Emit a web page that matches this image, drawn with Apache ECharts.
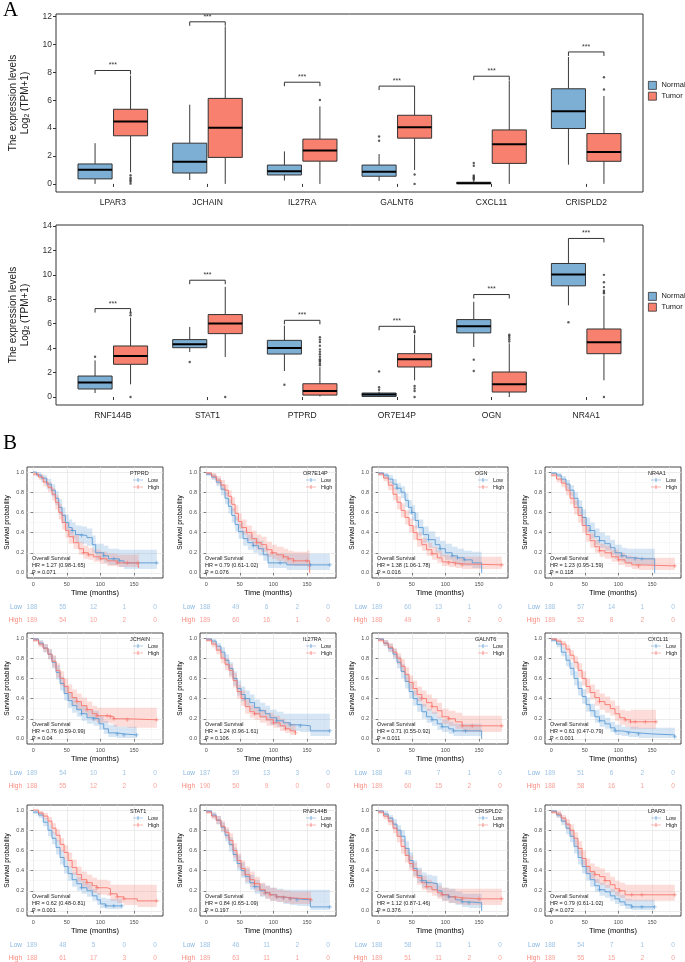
<!DOCTYPE html>
<html><head><meta charset="utf-8">
<script src="https://cdn.jsdelivr.net/npm/echarts@6/dist/echarts.min.js"></script>
<style>html,body{margin:0;padding:0;background:#fff}#c{width:685px;height:962px}</style>
</head><body><div id="c"></div><script>
// ---------------- DATA: Panel A ----------------
const genesTop = ['LPAR3','JCHAIN','IL27RA','GALNT6','CXCL11','CRISPLD2'];
// [whiskerLow, q1, median, q3, whiskerHigh]
const normalTop = [
 [0,0.36,1.02,1.43,2.92],
 [0.28,0.78,1.59,2.92,5.68],
 [0.24,0.64,0.9,1.35,2.33],
 [0.21,0.55,0.88,1.35,2.14],
 [0,0.02,0.05,0.12,0.22],
 [1.38,3.97,5.2,6.82,9.1]
];
const tumorTop = [
 [0.83,3.45,4.47,5.35,7.77],
 [0,1.9,4.02,6.13,11.29],
 [0,1.63,2.4,3.21,5.56],
 [1.0,3.28,4.06,4.92,6.73],
 [0,1.47,2.85,3.87,7.41],
 [0,1.62,2.28,3.61,6.3]
];
const outNormalTop = [[4,3.4],[4,3.09],[5,0.3],[5,0.38],[5,0.45],[5,0.52],[5,0.6],[5,1.3],[5,1.5]];
const outTumorTop = [[1,0.62],[1,0.45],[1,0.35],[1,0.25],[1,0.15],[1,0.02],[3,6.02],[4,0.67],[4,0],[6,6.77],[6,7.65]];
const sigTop = [8.13,11.62,7.29,7.01,7.72,9.46];
const yTicksTop = [0,2,4,6,8,10,12];

const genesBottom = ['RNF144B','STAT1','PTPRD','OR7E14P','OGN','NR4A1'];
const normalBottom = [
 [0.33,0.66,1.2,1.72,3.0],
 [3.69,4.04,4.32,4.7,5.74],
 [2.13,3.52,4.02,4.64,5.85],
 [0,0.05,0.2,0.33,0.45],
 [4.1,5.25,5.79,6.34,7.79],
 [7.51,9.1,10.03,10.93,12.68]
];
const tumorBottom = [
 [1.04,2.68,3.36,4.18,6.5],
 [3.28,5.19,6.01,6.75,9.02],
 [0.05,0.16,0.49,1.09,2.45],
 [1.37,2.46,3.09,3.55,5.1],
 [0,0.41,1.04,2.05,4.4],
 [1.37,3.55,4.48,5.57,8.3]
];
const outNormalBottom = [[1,3.3],[2,2.87],[3,1.01],[4,0.6],[4,0.8],[4,2.1],[5,3.06],[5,2.13],[6,6.12]];
const outTumorBottom = [[1,6.7],[1,6.9],[1,0],[2,0],[3,2.6],[3,2.75],[3,2.9],[3,3.0],[3,3.1],[3,3.3],[3,3.5],[3,3.7],[3,3.9],[3,4.2],[3,4.5],[3,4.7],[3,4.9],[4,0.9],[4,0.7],[4,0.5],[4,0],[4,5.3],[4,5.4],[5,4.55],[5,4.7],[5,4.85],[5,5.0],[5,5.1],[6,8.5],[6,8.6],[6,8.7],[6,9.0],[6,9.4],[6,10.0],[6,0]];
const sigBottom = [7.24,9.56,6.28,5.79,8.39,12.98];
const yTicksBottom = [0,2,4,6,8,10,12,14];

// ---------------- DATA: Panel B ----------------
const kmGenes = ['PTPRD','OR7E14P','OGN','NR4A1','JCHAIN','IL27RA','GALNT6','CXCL11','STAT1','RNF144B','CRISPLD2','LPAR3'];
const kmHR = ['HR = 1.27 (0.98-1.65)','HR = 0.79 (0.61-1.02)','HR = 1.38 (1.06-1.78)','HR = 1.23 (0.95-1.59)',
 'HR = 0.76 (0.59-0.99)','HR = 1.24 (0.96-1.61)','HR = 0.71 (0.55-0.92)','HR = 0.61 (0.47-0.79)',
 'HR = 0.62 (0.48-0.81)','HR = 0.84 (0.65-1.09)','HR = 1.12 (0.87-1.46)','HR = 0.79 (0.61-1.02)'];
const kmP = ['P = 0.071','P = 0.076','P = 0.016','P = 0.118','P = 0.04','P = 0.106','P = 0.011','P < 0.001','P = 0.001','P = 0.197','P = 0.376','P = 0.072'];
const riskLow = [[188,55,12,1,0],[188,49,6,2,0],[189,60,13,1,0],[188,57,14,1,0],[189,54,10,1,0],[187,59,13,3,0],
 [188,49,7,1,0],[189,51,6,2,0],[189,48,5,0,0],[188,46,11,2,0],[188,58,11,1,0],[188,54,7,1,0]];
const riskHigh = [[189,54,10,2,0],[189,60,16,1,0],[188,49,9,2,0],[189,52,8,2,0],[188,55,12,2,0],[190,50,9,0,0],
 [189,60,15,2,0],[188,58,16,1,0],[188,61,17,3,0],[189,63,11,1,0],[189,51,11,2,0],[189,55,15,2,0]];
const kmTimeTicks = [0,50,100,150];
const kmTimeMinor = [25,75,125,175];
const kmSurvTicks = [0,0.2,0.4,0.6,0.8,1.0];
const kmSurvMinor = [0.1,0.3,0.5,0.7,0.9];

// curves: [time, survival, lower CI, upper CI, censored(1)]
const PTPRD_low = [[0,1,1,1,0],[5,0.97,0.95,1,0],[12,0.94,0.9,0.97,0],[20,0.88,0.83,0.93,0],[27,0.82,0.76,0.88,0],[33,0.74,0.67,0.81,0],[38,0.65,0.58,0.73,0],[43,0.57,0.5,0.65,0],[48,0.5,0.42,0.58,0],[53,0.45,0.37,0.53,0],[58,0.42,0.34,0.5,1],[63,0.38,0.3,0.47,0],[72,0.37,0.29,0.46,1],[80,0.35,0.27,0.44,0],[88,0.28,0.2,0.37,0],[93,0.2,0.13,0.29,0],[105,0.17,0.1,0.27,1],[112,0.14,0.08,0.24,0],[120,0.14,0.08,0.24,1],[128,0.12,0.06,0.23,1],[135,0.1,0.04,0.23,0],[184,0.1,0.04,0.23,1]];
const PTPRD_high = [[0,0.98,0.96,1,0],[8,0.95,0.92,0.98,0],[15,0.9,0.86,0.94,0],[22,0.85,0.8,0.9,0],[28,0.78,0.72,0.84,0],[33,0.7,0.63,0.77,0],[38,0.6,0.53,0.68,0],[43,0.5,0.43,0.58,0],[48,0.42,0.35,0.5,0],[53,0.36,0.29,0.44,0],[60,0.3,0.24,0.38,0],[68,0.24,0.18,0.31,0],[75,0.2,0.14,0.27,1],[82,0.18,0.13,0.25,1],[90,0.16,0.11,0.23,0],[100,0.14,0.09,0.21,1],[110,0.12,0.07,0.19,0],[125,0.1,0.06,0.18,1],[140,0.1,0.06,0.18,1],[156,0.1,0.05,0.2,1],[157,0.05,0.01,0.25,0]];
const OR7E14P_low = [[0,0.98,0.96,1,0],[8,0.95,0.92,0.98,0],[15,0.9,0.86,0.94,0],[22,0.83,0.77,0.88,0],[28,0.74,0.68,0.8,0],[33,0.66,0.59,0.73,0],[38,0.57,0.5,0.64,0],[43,0.48,0.41,0.56,0],[48,0.41,0.34,0.49,0],[55,0.34,0.27,0.42,0],[62,0.3,0.23,0.38,0],[70,0.27,0.2,0.35,1],[78,0.24,0.17,0.32,0],[85,0.18,0.12,0.26,0],[92,0.1,0.05,0.19,0],[110,0.1,0.05,0.19,1],[120,0.08,0.03,0.19,0],[155,0.08,0.03,0.19,1],[184,0.08,0.03,0.19,1]];
const OR7E14P_high = [[0,0.99,0.97,1,0],[8,0.96,0.93,0.99,0],[15,0.92,0.88,0.96,0],[22,0.87,0.82,0.92,0],[28,0.82,0.76,0.88,0],[33,0.76,0.69,0.82,0],[38,0.68,0.61,0.75,0],[43,0.59,0.52,0.67,0],[48,0.51,0.44,0.59,0],[53,0.45,0.38,0.53,0],[60,0.4,0.32,0.47,0],[68,0.34,0.27,0.42,0],[75,0.3,0.23,0.38,1],[82,0.28,0.21,0.36,0],[90,0.23,0.16,0.31,0],[98,0.2,0.14,0.28,1],[105,0.18,0.12,0.26,0],[115,0.16,0.1,0.24,1],[122,0.14,0.08,0.22,1],[130,0.12,0.07,0.21,1],[150,0.12,0.06,0.22,1],[154,0,0,0.2,0]];
const OGN_low = [[0,0.99,0.97,1,0],[8,0.97,0.94,0.99,0],[15,0.93,0.89,0.97,0],[22,0.88,0.83,0.93,0],[28,0.84,0.78,0.89,1],[34,0.8,0.74,0.86,0],[40,0.72,0.65,0.79,0],[45,0.65,0.58,0.72,0],[50,0.6,0.52,0.67,1],[55,0.52,0.44,0.6,0],[60,0.45,0.37,0.53,0],[67,0.38,0.3,0.46,0],[75,0.33,0.25,0.41,1],[85,0.28,0.2,0.36,0],[92,0.24,0.16,0.32,1],[100,0.2,0.13,0.29,0],[110,0.17,0.1,0.26,1],[118,0.15,0.08,0.24,1],[128,0.13,0.07,0.22,1],[140,0.1,0.05,0.21,0],[154,0,0,0.21,0]];
const OGN_high = [[0,0.98,0.96,1,0],[8,0.94,0.91,0.97,0],[15,0.87,0.82,0.91,0],[22,0.78,0.72,0.84,0],[28,0.7,0.63,0.76,0],[34,0.62,0.55,0.69,0],[40,0.55,0.48,0.62,0],[46,0.47,0.4,0.54,0],[52,0.4,0.33,0.47,0],[58,0.33,0.26,0.4,0],[65,0.28,0.22,0.35,0],[72,0.23,0.17,0.3,0],[80,0.19,0.13,0.26,1],[88,0.15,0.1,0.22,0],[95,0.11,0.07,0.18,0],[105,0.1,0.06,0.17,1],[115,0.09,0.05,0.16,1],[125,0.08,0.04,0.16,1],[184,0.08,0.04,0.16,1]];
const NR4A1_low = [[0,0.99,0.98,1,0],[8,0.97,0.95,0.99,0],[15,0.93,0.9,0.96,0],[22,0.88,0.83,0.92,0],[28,0.82,0.76,0.87,0],[34,0.74,0.67,0.8,0],[40,0.65,0.58,0.72,0],[46,0.55,0.48,0.63,0],[52,0.47,0.4,0.55,0],[58,0.42,0.34,0.5,1],[65,0.36,0.28,0.44,0],[72,0.32,0.25,0.4,1],[80,0.29,0.22,0.37,0],[88,0.25,0.18,0.33,0],[95,0.2,0.14,0.28,0],[105,0.17,0.11,0.25,1],[112,0.15,0.09,0.24,0],[125,0.14,0.08,0.24,1],[135,0.14,0.08,0.24,1],[154,0,0,0.24,0]];
const NR4A1_high = [[0,0.97,0.95,0.99,0],[8,0.93,0.9,0.96,0],[15,0.89,0.85,0.93,0],[22,0.82,0.77,0.87,0],[28,0.74,0.68,0.8,0],[34,0.65,0.58,0.72,0],[40,0.57,0.5,0.64,0],[46,0.47,0.4,0.55,0],[52,0.38,0.31,0.46,0],[58,0.32,0.25,0.39,0],[65,0.26,0.2,0.33,0],[72,0.22,0.16,0.29,1],[80,0.2,0.14,0.27,0],[90,0.16,0.11,0.23,0],[100,0.13,0.08,0.2,1],[110,0.1,0.06,0.17,0],[120,0.08,0.04,0.16,0],[130,0.07,0.03,0.15,1],[184,0.07,0.03,0.15,1]];
const JCHAIN_low = [[0,0.99,0.97,1,0],[8,0.95,0.92,0.98,0],[15,0.9,0.86,0.94,0],[22,0.84,0.79,0.89,0],[28,0.76,0.7,0.82,0],[34,0.66,0.59,0.73,0],[40,0.55,0.48,0.62,0],[46,0.45,0.38,0.53,0],[52,0.38,0.31,0.46,0],[58,0.33,0.26,0.41,0],[65,0.29,0.22,0.37,0],[72,0.25,0.18,0.33,1],[80,0.21,0.15,0.29,0],[90,0.2,0.13,0.28,1],[98,0.15,0.09,0.23,0],[105,0.1,0.05,0.18,0],[112,0.06,0.02,0.14,0],[125,0.05,0.01,0.12,1],[135,0.04,0.01,0.12,1],[154,0.04,0.01,0.12,1]];
const JCHAIN_high = [[0,0.98,0.96,1,0],[8,0.94,0.91,0.97,0],[15,0.9,0.86,0.94,0],[22,0.84,0.79,0.89,0],[28,0.77,0.71,0.83,0],[34,0.68,0.61,0.75,0],[40,0.6,0.53,0.67,0],[46,0.52,0.45,0.6,0],[52,0.46,0.39,0.54,0],[58,0.41,0.33,0.49,0],[65,0.37,0.29,0.45,1],[72,0.33,0.26,0.41,0],[80,0.29,0.22,0.37,1],[88,0.25,0.18,0.33,0],[95,0.23,0.16,0.31,1],[110,0.23,0.16,0.31,1],[115,0.22,0.15,0.31,1],[120,0.2,0.12,0.31,1],[140,0.19,0.11,0.31,1],[184,0.19,0.11,0.31,1]];
const IL27RA_low = [[0,0.99,0.97,1,0],[8,0.97,0.94,0.99,0],[15,0.92,0.88,0.95,0],[22,0.86,0.81,0.91,0],[28,0.78,0.72,0.84,0],[34,0.7,0.63,0.76,0],[40,0.6,0.53,0.67,0],[46,0.5,0.43,0.58,0],[52,0.44,0.37,0.52,0],[58,0.4,0.32,0.48,1],[65,0.36,0.28,0.44,0],[72,0.31,0.24,0.39,0],[80,0.28,0.21,0.36,1],[88,0.25,0.18,0.33,0],[95,0.21,0.14,0.29,0],[105,0.18,0.12,0.27,1],[115,0.16,0.1,0.25,0],[125,0.14,0.08,0.25,1],[140,0.13,0.07,0.25,1],[155,0.08,0.03,0.25,0],[184,0.08,0.03,0.25,1]];
const IL27RA_high = [[0,0.98,0.96,1,0],[8,0.94,0.91,0.97,0],[15,0.88,0.84,0.92,0],[22,0.8,0.75,0.85,0],[28,0.74,0.68,0.8,0],[34,0.68,0.61,0.74,0],[40,0.58,0.51,0.65,0],[46,0.47,0.4,0.54,0],[52,0.4,0.33,0.48,0],[58,0.32,0.25,0.39,0],[65,0.27,0.21,0.34,0],[72,0.25,0.19,0.32,1],[80,0.22,0.16,0.29,0],[90,0.19,0.13,0.26,0],[100,0.16,0.11,0.23,1],[110,0.13,0.08,0.2,0],[118,0.1,0.06,0.17,1],[125,0.08,0.04,0.15,0],[133,0.06,0.02,0.14,1]];
const GALNT6_low = [[0,0.99,0.97,1,0],[8,0.95,0.92,0.98,0],[15,0.9,0.86,0.94,0],[22,0.84,0.79,0.89,0],[28,0.76,0.7,0.82,0],[34,0.67,0.6,0.74,0],[40,0.57,0.5,0.64,0],[46,0.47,0.4,0.55,0],[52,0.4,0.33,0.48,0],[58,0.34,0.27,0.42,0],[65,0.27,0.2,0.35,0],[72,0.22,0.16,0.3,0],[80,0.19,0.13,0.27,1],[88,0.15,0.09,0.22,0],[95,0.12,0.07,0.19,1],[105,0.1,0.05,0.17,0],[112,0.08,0.03,0.15,1],[130,0.08,0.03,0.15,1],[154,0,0,0.15,0]];
const GALNT6_high = [[0,0.98,0.96,1,0],[8,0.95,0.92,0.98,0],[15,0.91,0.87,0.95,0],[22,0.86,0.81,0.9,0],[28,0.8,0.74,0.85,0],[34,0.72,0.66,0.79,0],[40,0.64,0.57,0.71,0],[46,0.56,0.49,0.63,0],[52,0.5,0.43,0.58,0],[58,0.44,0.37,0.52,0],[65,0.4,0.32,0.48,1],[72,0.36,0.28,0.44,0],[80,0.32,0.25,0.4,1],[88,0.28,0.21,0.36,0],[95,0.22,0.15,0.3,0],[105,0.2,0.13,0.28,1],[115,0.17,0.1,0.26,0],[125,0.13,0.07,0.23,1],[140,0.13,0.07,0.23,1],[184,0.13,0.07,0.23,1]];
const CXCL11_low = [[0,0.98,0.96,1,0],[8,0.94,0.91,0.97,0],[15,0.86,0.82,0.91,0],[22,0.78,0.72,0.84,0],[28,0.7,0.63,0.76,0],[34,0.6,0.53,0.67,0],[40,0.5,0.43,0.57,0],[46,0.42,0.35,0.49,0],[52,0.34,0.27,0.41,0],[58,0.28,0.22,0.35,0],[65,0.22,0.16,0.29,0],[72,0.18,0.12,0.24,1],[80,0.15,0.1,0.21,0],[88,0.11,0.07,0.17,0],[95,0.08,0.04,0.14,1],[105,0.07,0.03,0.12,0],[115,0.06,0.02,0.12,1],[130,0.05,0.01,0.11,1],[150,0.04,0.01,0.11,0],[184,0.02,0.0,0.11,1]];
const CXCL11_high = [[0,0.99,0.97,1,0],[8,0.97,0.95,0.99,0],[15,0.94,0.91,0.97,0],[22,0.89,0.85,0.93,0],[28,0.83,0.78,0.88,0],[34,0.76,0.7,0.82,0],[40,0.68,0.61,0.75,0],[46,0.6,0.53,0.67,0],[52,0.52,0.45,0.6,0],[58,0.46,0.39,0.54,0],[65,0.41,0.33,0.49,0],[72,0.37,0.29,0.45,1],[80,0.34,0.26,0.42,0],[88,0.3,0.23,0.38,0],[95,0.25,0.18,0.33,0],[102,0.21,0.14,0.29,0],[110,0.19,0.12,0.28,1],[118,0.17,0.1,0.29,1],[125,0.17,0.1,0.29,1],[140,0.17,0.1,0.29,1],[156,0.17,0.1,0.29,1]];
const STAT1_low = [[0,0.98,0.96,1,0],[8,0.95,0.92,0.98,0],[15,0.88,0.84,0.92,0],[22,0.8,0.74,0.85,0],[28,0.72,0.66,0.78,0],[34,0.63,0.56,0.7,0],[40,0.53,0.46,0.6,0],[46,0.44,0.37,0.51,0],[52,0.37,0.3,0.44,0],[58,0.31,0.24,0.38,0],[65,0.27,0.2,0.34,0],[72,0.23,0.17,0.3,1],[80,0.2,0.14,0.27,0],[88,0.15,0.1,0.22,0],[95,0.11,0.06,0.18,0],[100,0.07,0.03,0.13,0],[108,0.05,0.02,0.12,1],[120,0.05,0.02,0.12,1],[132,0.05,0.02,0.12,1]];
const STAT1_high = [[0,1,1,1,0],[8,0.97,0.95,0.99,0],[15,0.94,0.91,0.97,0],[22,0.89,0.85,0.93,0],[28,0.82,0.77,0.87,0],[34,0.75,0.69,0.81,0],[40,0.66,0.59,0.72,0],[46,0.58,0.51,0.65,0],[52,0.5,0.43,0.58,0],[58,0.43,0.36,0.51,0],[65,0.36,0.29,0.44,0],[72,0.31,0.24,0.39,0],[80,0.28,0.21,0.36,1],[88,0.25,0.18,0.33,0],[95,0.23,0.16,0.31,1],[110,0.22,0.15,0.3,0],[115,0.17,0.1,0.26,1],[125,0.14,0.08,0.26,1],[135,0.12,0.06,0.26,1],[155,0.1,0.04,0.26,0],[184,0.1,0.04,0.26,1]];
const RNF144B_low = [[0,0.99,0.97,1,0],[8,0.95,0.92,0.98,0],[15,0.9,0.86,0.94,0],[22,0.83,0.78,0.88,0],[28,0.75,0.69,0.81,0],[34,0.66,0.59,0.73,0],[40,0.56,0.49,0.63,0],[46,0.47,0.4,0.55,0],[52,0.4,0.33,0.48,0],[58,0.34,0.27,0.42,0],[65,0.28,0.21,0.36,0],[72,0.24,0.17,0.31,1],[80,0.2,0.14,0.27,0],[88,0.18,0.12,0.25,1],[95,0.16,0.1,0.23,0],[105,0.14,0.09,0.22,1],[115,0.13,0.07,0.21,1],[125,0.12,0.06,0.21,1],[135,0.11,0.05,0.21,1],[155,0.04,0.01,0.21,0],[184,0.04,0.01,0.21,1]];
const RNF144B_high = [[0,0.98,0.96,1,0],[8,0.94,0.91,0.97,0],[15,0.9,0.86,0.94,0],[22,0.84,0.79,0.89,0],[28,0.78,0.72,0.83,0],[34,0.7,0.64,0.77,0],[40,0.6,0.53,0.67,0],[46,0.5,0.43,0.57,0],[52,0.42,0.35,0.5,0],[58,0.36,0.29,0.44,0],[65,0.31,0.24,0.39,0],[72,0.27,0.2,0.34,1],[80,0.21,0.15,0.28,0],[88,0.18,0.12,0.25,1],[95,0.16,0.1,0.23,1],[105,0.14,0.09,0.21,1],[115,0.13,0.08,0.2,1],[125,0.12,0.07,0.19,1],[156,0.11,0.06,0.19,1]];
const CRISPLD2_low = [[0,0.99,0.97,1,0],[8,0.96,0.93,0.99,0],[15,0.92,0.88,0.95,0],[22,0.86,0.81,0.91,0],[28,0.8,0.74,0.85,0],[34,0.74,0.68,0.8,0],[40,0.62,0.55,0.69,0],[46,0.5,0.43,0.58,0],[52,0.42,0.35,0.5,0],[58,0.35,0.28,0.43,0],[65,0.3,0.23,0.38,1],[72,0.28,0.21,0.36,1],[80,0.27,0.2,0.35,0],[88,0.2,0.14,0.28,0],[95,0.16,0.1,0.23,0],[105,0.14,0.08,0.22,1],[115,0.11,0.06,0.19,0],[125,0.09,0.04,0.17,1],[135,0.08,0.03,0.17,1],[154,0,0,0.17,0]];
const CRISPLD2_high = [[0,0.98,0.96,1,0],[8,0.94,0.91,0.97,0],[15,0.89,0.85,0.93,0],[22,0.82,0.77,0.87,0],[28,0.74,0.68,0.8,0],[34,0.64,0.57,0.71,0],[40,0.55,0.48,0.62,0],[46,0.47,0.4,0.55,0],[52,0.4,0.33,0.48,0],[58,0.33,0.26,0.41,0],[65,0.28,0.21,0.35,0],[72,0.24,0.18,0.31,1],[80,0.21,0.15,0.28,0],[88,0.18,0.12,0.25,0],[95,0.16,0.1,0.23,1],[105,0.14,0.08,0.22,0],[115,0.13,0.07,0.22,1],[125,0.12,0.06,0.22,1],[150,0.12,0.06,0.22,1],[184,0.12,0.06,0.22,1]];
const LPAR3_low = [[0,0.99,0.97,1,0],[8,0.95,0.92,0.98,0],[15,0.89,0.85,0.93,0],[22,0.82,0.76,0.87,0],[28,0.74,0.68,0.8,0],[34,0.64,0.57,0.71,0],[40,0.53,0.46,0.6,0],[46,0.44,0.37,0.51,0],[52,0.37,0.3,0.45,0],[58,0.31,0.24,0.39,0],[65,0.25,0.19,0.32,0],[72,0.21,0.15,0.28,1],[80,0.19,0.13,0.26,0],[88,0.15,0.1,0.22,0],[95,0.12,0.07,0.19,0],[102,0.09,0.05,0.16,0],[110,0.06,0.02,0.12,0],[120,0.04,0.01,0.11,1],[135,0.04,0.01,0.11,1],[154,0.04,0.01,0.11,1]];
const LPAR3_high = [[0,0.98,0.96,1,0],[8,0.96,0.93,0.99,0],[15,0.92,0.88,0.95,0],[22,0.86,0.81,0.91,0],[28,0.8,0.74,0.86,0],[34,0.72,0.65,0.78,0],[40,0.62,0.55,0.69,0],[46,0.52,0.45,0.6,0],[52,0.44,0.37,0.52,0],[58,0.39,0.32,0.47,0],[65,0.36,0.28,0.44,1],[72,0.34,0.26,0.42,0],[80,0.3,0.23,0.38,1],[88,0.26,0.19,0.34,0],[95,0.22,0.15,0.3,0],[102,0.2,0.13,0.28,1],[110,0.16,0.1,0.26,0],[120,0.16,0.1,0.26,1],[135,0.16,0.1,0.26,1],[184,0.16,0.1,0.26,1]];

const kmCurvesLow = [PTPRD_low,OR7E14P_low,OGN_low,NR4A1_low,JCHAIN_low,IL27RA_low,GALNT6_low,CXCL11_low,STAT1_low,RNF144B_low,CRISPLD2_low,LPAR3_low];
const kmCurvesHigh = [PTPRD_high,OR7E14P_high,OGN_high,NR4A1_high,JCHAIN_high,IL27RA_high,GALNT6_high,CXCL11_high,STAT1_high,RNF144B_high,CRISPLD2_high,LPAR3_high];

// ---------------- STYLE / LAYOUT ----------------
const FONT = '"Liberation Sans", Arial, Helvetica, sans-serif';
const C_NORMAL = '#7DAFD4', C_TUMOR = '#F8806F';
const C_LOW = '#5B9BD5', C_HIGH = '#F8766D';
const F_LOW = 'rgba(91,155,213,0.25)', F_HIGH = 'rgba(248,118,109,0.25)';
const T_LOW = '#86B5E0', T_HIGH = '#F88A7E';
const CROSS = 'path://M0,4h10v2h-10zM4,0h2v10h-2z';
const LEG_ICON = 'path://M0,4.4h20v1.2h-20zM9.2,1h1.6v8h-1.6z';
const DODGE = 0.1875, BOXW = 0.36;

const grid=[], xAxis=[], yAxis=[], series=[], title=[], legend=[];
const addGrid = g => (grid.push(g), grid.length-1);
const addX = a => (xAxis.push(a), xAxis.length-1);
const addY = a => (yAxis.push(a), yAxis.length-1);

function boxRender(offset, color){
  return function(params, api){
    const x = api.value(0) + offset;
    const lo = api.coord([x, api.value(1)]), q1 = api.coord([x, api.value(2)]),
          md = api.coord([x, api.value(3)]), q3 = api.coord([x, api.value(4)]), hi = api.coord([x, api.value(5)]);
    const w = api.size([BOXW, 0])[0], cx = lo[0];
    return {type:'group', children:[
      {type:'line', shape:{x1:cx,y1:hi[1],x2:cx,y2:q3[1]}, style:{stroke:'#3a3a3a', lineWidth:1}},
      {type:'line', shape:{x1:cx,y1:q1[1],x2:cx,y2:lo[1]}, style:{stroke:'#3a3a3a', lineWidth:1}},
      {type:'rect', shape:{x:cx-w/2, y:q3[1], width:w, height:Math.max(q1[1]-q3[1],1)}, style:{fill:color, stroke:'#333', lineWidth:1}},
      {type:'line', shape:{x1:cx-w/2,y1:md[1],x2:cx+w/2,y2:md[1]}, style:{stroke:'#000', lineWidth:2}}
    ]};
  };
}

function addBoxChart(genes, normal, tumor, outN, outT, sig, top, height, ymin, ymax, yTicks, legTop){
  const gi = addGrid({left:48, top:top, width:595, height:height, show:true, borderColor:'#333', borderWidth:1, backgroundColor:'#fff'});
  const cats = genes.map((g,i)=>i+1);
  const xi = addX({gridIndex:gi, type:'value', min:0.4, max:6.6, axisLine:{show:false}, splitLine:{show:false},
    axisTick:{show:true, length:3, customValues:cats, lineStyle:{color:'#333'}},
    axisLabel:{customValues:cats, formatter:v=>genes[Math.round(v)-1], fontSize:8.5, color:'#1a1a1a', margin:6, fontFamily:FONT}});
  const yi = addY({gridIndex:gi, type:'value', min:ymin, max:ymax, axisLine:{show:false}, splitLine:{show:false},
    axisTick:{show:true, length:3, customValues:yTicks, lineStyle:{color:'#333'}},
    axisLabel:{customValues:yTicks, fontSize:8.5, color:'#333', margin:4, fontFamily:FONT},
    name:'{a|The expression levels}\n{a|Log}{s|2}{a| (TPM+1)}', nameLocation:'middle', nameGap:25,
    nameTextStyle:{rich:{a:{fontSize:10, fontFamily:FONT, color:'#1a1a1a', lineHeight:12}, s:{fontSize:7, fontFamily:FONT, color:'#1a1a1a', verticalAlign:'bottom', lineHeight:12, padding:[4,0,0,0]}}}});
  series.push({type:'custom', name:'Normal', xAxisIndex:xi, yAxisIndex:yi, itemStyle:{color:C_NORMAL}, z:2,
    data: normal.map((d,i)=>[i+1].concat(d)), encode:{x:0, y:[1,2,3,4,5]}, renderItem: boxRender(-DODGE, C_NORMAL)});
  series.push({type:'custom', name:'Tumor', xAxisIndex:xi, yAxisIndex:yi, itemStyle:{color:C_TUMOR}, z:2,
    data: tumor.map((d,i)=>[i+1].concat(d)), encode:{x:0, y:[1,2,3,4,5]}, renderItem: boxRender(DODGE, C_TUMOR)});
  series.push({type:'scatter', name:'outN', xAxisIndex:xi, yAxisIndex:yi, symbolSize:2.4, z:3, silent:true,
    itemStyle:{color:'#333'}, data: outN.map(d=>[d[0]-DODGE, d[1]])});
  series.push({type:'scatter', name:'outT', xAxisIndex:xi, yAxisIndex:yi, symbolSize:2.4, z:3, silent:true,
    itemStyle:{color:'#333'}, data: outT.map(d=>[d[0]+DODGE, d[1]])});
  series.push({type:'custom', name:'sig', xAxisIndex:xi, yAxisIndex:yi, z:3, silent:true,
    data: sig.map((y,i)=>[i+1,y]), encode:{x:0,y:1},
    renderItem:(params, api)=>{
      const c = api.value(0), y = api.value(1);
      const a = api.coord([c-DODGE, y]), b = api.coord([c+DODGE, y]);
      return {type:'group', children:[
        {type:'polyline', shape:{points:[[a[0],a[1]+4],[a[0],a[1]],[b[0],b[1]],[b[0],b[1]+4]]}, style:{stroke:'#333', lineWidth:1, fill:null}},
        {type:'text', x:(a[0]+b[0])/2, y:a[1]-1.5, style:{text:'***', fontSize:7, fontFamily:FONT, fill:'#333', align:'center', verticalAlign:'bottom'}}
      ]};
    }});
  legend.push({orient:'vertical', left:648, top:legTop, padding:0, itemWidth:8, itemHeight:8, itemGap:2, selectedMode:false,
    textStyle:{fontSize:7.5, color:'#1a1a1a', fontFamily:FONT},
    data:[{name:'Normal', icon:'rect', itemStyle:{color:C_NORMAL, borderColor:'#333', borderWidth:0.8}},
          {name:'Tumor', icon:'rect', itemStyle:{color:C_TUMOR, borderColor:'#333', borderWidth:0.8}}]});
}

addBoxChart(genesTop, normalTop, tumorTop, outNormalTop, outTumorTop, sigTop, 14, 178, -0.58, 12.18, yTicksTop, 81);
addBoxChart(genesBottom, normalBottom, tumorBottom, outNormalBottom, outTumorBottom, sigBottom, 225, 180, -0.65, 14.08, yTicksBottom, 292);

// ---------------- KM panels ----------------
const colLeft = [27,200,372,545], rowTop = [467,633,805], PW = 136, PH = 111;

function bandRender(curve, fill){
  return function(params, api){
    const up=[], lo=[];
    for(let i=0;i<curve.length;i++){
      const t0 = curve[i][0], t1 = i<curve.length-1 ? curve[i+1][0] : curve[i][0];
      up.push(api.coord([t0, curve[i][3]])); up.push(api.coord([t1, curve[i][3]]));
      lo.push(api.coord([t0, curve[i][2]])); lo.push(api.coord([t1, curve[i][2]]));
    }
    return {type:'polygon', shape:{points: up.concat(lo.reverse())}, style:{fill:fill}, silent:true};
  };
}

kmGenes.forEach((gene, p)=>{
  const r = Math.floor(p/4), c = p%4;
  const L = colLeft[c], T = rowTop[r];
  const gi = addGrid({left:L, top:T, width:PW, height:PH, show:true, borderColor:'#333', borderWidth:0.9, backgroundColor:'#fff'});
  const xi = addX({gridIndex:gi, type:'value', min:-9.2, max:193.2, position:'bottom',
    name:'Time (months)', nameLocation:'middle', nameGap:11, nameTextStyle:{fontSize:7.5, color:'#000', fontFamily:FONT},
    axisLine:{show:false}, axisTick:{length:2.5, customValues:kmTimeTicks, lineStyle:{color:'#333', width:0.6}},
    axisLabel:{customValues:kmTimeTicks, fontSize:5.5, color:'#4d4d4d', margin:3, fontFamily:FONT},
    splitLine:{show:true, lineStyle:{color:'#E4E4E4', width:0.7}}});
  addX({gridIndex:gi, type:'value', min:-9.2, max:193.2, position:'top', axisLine:{show:false}, axisTick:{show:false, customValues:kmTimeMinor},
    axisLabel:{show:false}, splitLine:{show:true, lineStyle:{color:'#F1F1F1', width:0.5}}});
  const yi = addY({gridIndex:gi, type:'value', min:-0.05, max:1.05, position:'left',
    name:'Survival probability', nameLocation:'middle', nameGap:16, nameTextStyle:{fontSize:6.5, color:'#000', fontFamily:FONT},
    axisLine:{show:false}, axisTick:{length:2.5, customValues:kmSurvTicks, lineStyle:{color:'#333', width:0.6}},
    axisLabel:{customValues:kmSurvTicks, formatter:v=>v.toFixed(1), fontSize:5.5, color:'#4d4d4d', margin:3, fontFamily:FONT},
    splitLine:{show:true, lineStyle:{color:'#E4E4E4', width:0.7}}});
  addY({gridIndex:gi, type:'value', min:-0.05, max:1.05, position:'right', axisLine:{show:false}, axisTick:{show:false, customValues:kmSurvMinor},
    axisLabel:{show:false}, splitLine:{show:true, lineStyle:{color:'#F1F1F1', width:0.5}}});

  const groups = [[kmCurvesLow[p],'Low',C_LOW,F_LOW],[kmCurvesHigh[p],'High',C_HIGH,F_HIGH]];
  groups.forEach(([cv,name,col,fill])=>{
    series.push({type:'custom', name:name+' CI', xAxisIndex:xi, yAxisIndex:yi, z:1, silent:true,
      data:[[0,0]], encode:{x:0,y:1}, renderItem: bandRender(cv, fill)});
  });
  groups.forEach(([cv,name,col])=>{
    series.push({type:'line', name:name, xAxisIndex:xi, yAxisIndex:yi, step:'end', symbol:'none', z:3, silent:true,
      color:col, lineStyle:{color:col, width:0.9}, data: cv.map(d=>[d[0],d[1]])});
    series.push({type:'scatter', name:name+' censor', xAxisIndex:xi, yAxisIndex:yi, symbol:CROSS, symbolSize:4, z:4, silent:true,
      itemStyle:{color:col}, data: cv.filter(d=>d[4]===1).map(d=>[d[0],d[1]])});
  });

  title.push({text:gene, left:L+103, top:T+3, padding:0, textStyle:{fontSize:5.5, fontWeight:'normal', color:'#222', fontFamily:FONT}});
  title.push({text:'Overall Survival\n'+kmHR[p]+'\n'+kmP[p], left:L+5, top:T+88, padding:0,
    textStyle:{fontSize:5.5, fontWeight:'normal', color:'#222', lineHeight:7, fontFamily:FONT}});
  legend.push({orient:'vertical', left:L+106, top:T+10, itemWidth:10, itemHeight:6, itemGap:1, selectedMode:false, padding:0,
    textStyle:{fontSize:5.5, color:'#222', fontFamily:FONT},
    data:[{name:'Low', icon:LEG_ICON, itemStyle:{color:C_LOW}}, {name:'High', icon:LEG_ICON, itemStyle:{color:C_HIGH}}]});

  // risk table
  const rg = addGrid({left:L+5, top:T+PH+29, width:123, height:13, show:false});
  const rx = addX({gridIndex:rg, type:'category', boundaryGap:false, data:['0','1','2','3','4'], show:false});
  const ry = addY({gridIndex:rg, type:'category', boundaryGap:false, inverse:true, data:['Low','High'],
    axisLine:{show:false}, axisTick:{show:false}, splitLine:{show:false},
    axisLabel:{fontSize:6.5, margin:10, fontFamily:FONT, color:(v)=> v==='Low'?T_LOW:T_HIGH}});
  [['Low',riskLow[p],T_LOW],['High',riskHigh[p],T_HIGH]].forEach(([nm,vals,col])=>{
    series.push({type:'scatter', name:'risk '+nm, xAxisIndex:rx, yAxisIndex:ry, symbolSize:1, silent:true,
      itemStyle:{color:'rgba(0,0,0,0)'},
      label:{show:true, position:'inside', formatter:pp=>String(pp.value[2]), fontSize:6.5, color:col, fontFamily:FONT},
      data: vals.map((v,i)=>[i, nm, v])});
  });
});

title.push({text:'A', left:3, top:0, padding:0, textStyle:{fontFamily:'"Liberation Serif", "Times New Roman", serif', fontSize:21, fontWeight:'normal', color:'#000'}});
title.push({text:'B', left:3, top:433, padding:0, textStyle:{fontFamily:'"Liberation Serif", "Times New Roman", serif', fontSize:21, fontWeight:'normal', color:'#000'}});

const chart = echarts.init(document.getElementById('c'), null, {renderer:'canvas'});
chart.setOption({animation:false, backgroundColor:'#fff', textStyle:{fontFamily:FONT},
  title, legend, grid, xAxis, yAxis, series});
</script></body></html>
